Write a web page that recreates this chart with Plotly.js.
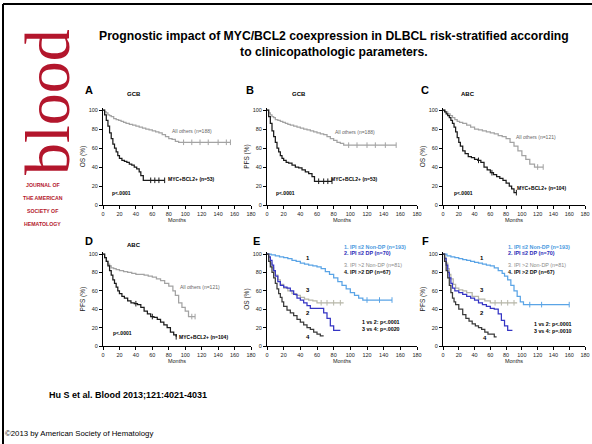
<!DOCTYPE html>
<html><head><meta charset="utf-8">
<script src="https://cdn.plot.ly/plotly-3.0.1.min.js"></script>
<style>html,body{margin:0;padding:0;background:#fff}#chart{width:592px;height:444px}</style>
</head><body><div id="chart"></div>
<script>
// ---------- DATA ----------
const xTicks = [0,20,40,60,80,100,120,140,160,180];
const yTicks = [0,20,40,60,80,100];
// Panel A (GCB, OS)
const aOthT = [0,2,4,6,8,10,13,16,19,22,25,28,32,36,40,44,48,52,56,60,64,68,72,76,80,84,88,92,155];
const aOthS = [100,98,97,95,94,93,91,90,89,88,87,86,85,84,83,82,81,80,79,78,77,76,74,72,70,69,67,66,66];
const aOthC = [98,108,118,128,140,150,155];
const aMycT = [0,2,4,6,8,10,12,14,16,18,20,23,26,29,32,35,38,41,44,46,49,75];
const aMycS = [100,95,89,83,76,70,64,60,56,52,49,47,46,45,43,42,40,38,35,31,26,26];
const aMycC = [58,63,68,75];
// Panel B (GCB, PFS)
const bOthT = [0,2,4,6,8,10,13,16,19,22,25,28,32,36,40,44,48,52,56,60,64,68,72,76,80,84,88,92,155];
const bOthS = [100,97,95,93,92,90,89,88,87,86,85,84,83,82,81,80,79,78,77,76,75,74,72,70,68,66,65,63,63];
const bOthC = [98,108,120,130,142,155];
const bMycT = [0,2,4,6,8,10,12,14,16,18,20,23,26,30,34,38,42,46,50,54,57,78];
const bMycS = [100,93,86,78,72,66,60,56,52,49,47,45,44,42,40,39,37,35,33,30,25,25];
const bMycC = [62,68,73,78];
// Panel C (ABC, OS)
const cOthT = [0,3,6,9,12,15,18,21,25,30,35,40,45,50,55,60,65,70,75,80,85,90,95,100,105,110,116,127];
const cOthS = [100,98,96,94,92,90,88,87,86,84,82,80,79,78,77,76,75,73,72,70,66,62,57,52,48,43,40,40];
const cOthC = [120,127];
const cMycT = [0,2,4,6,8,10,12,14,16,18,20,22,25,28,32,36,40,44,48,52,56,60,64,68,72,76,80,84,87,90,93];
const cMycS = [100,98,96,94,92,89,86,82,77,71,66,62,57,54,51,50,48,47,45,40,37,34,32,30,28,26,23,20,17,13,13];
const cMycC = [45,62,93];
// Panel D (ABC, PFS)
const dOthT = [0,2,4,6,8,10,13,16,20,25,30,35,40,45,50,55,60,65,70,75,80,85,88,92,96,100,104,112];
const dOthS = [100,96,92,89,87,85,84,83,82,81,80,79,78,78,77,76,75,73,71,68,65,60,55,47,42,38,32,32];
const dOthC = [108,112];
const dMycT = [0,2,4,6,8,10,12,14,16,18,20,23,26,30,34,38,42,46,50,54,58,62,66,70,74,78,82,86,89];
const dMycS = [100,96,92,87,82,77,72,68,64,60,57,54,52,49,47,46,45,42,38,35,32,31,29,26,23,20,15,12,10];
const dMycC = [40,60,89];
// Panel E (OS by IPI / DP)
const e1T = [0,5,10,15,20,25,30,35,40,45,50,55,60,65,70,75,80,85,90,95,100,105,110,115,150];
const e1S = [100,99,98,97,96,95,93,92,90,89,88,87,86,84,81,78,74,70,66,62,58,55,52,50,50];
const e1C = [120,135,150];
const e2T = [0,2,4,6,8,10,13,16,20,24,28,32,36,40,44,48,52,58,64,68,72,76,80,88];
const e2S = [100,97,93,88,82,76,70,66,64,63,60,56,52,50,47,44,41,41,41,36,30,22,17,17];
const e3T = [0,2,4,6,8,10,13,16,20,25,30,35,40,45,50,55,60,92];
const e3S = [100,96,90,85,81,77,72,67,63,60,57,55,53,51,50,49,47,47];
const e3C = [65,72,80,88];
const e4T = [0,2,4,6,8,10,12,14,16,18,20,24,28,32,36,40,44,48,52,56,60,64,68];
const e4S = [100,92,86,80,74,68,62,57,53,48,43,39,36,33,29,26,23,20,18,15,13,11,11];
// Panel F (PFS by IPI / DP)
const f1T = [0,5,10,15,20,25,30,35,40,45,50,55,60,65,70,75,78,82,86,90,94,98,102,160];
const f1S = [100,98,97,96,95,94,93,92,91,90,89,88,87,85,82,79,76,72,66,60,54,48,45,45];
const f1C = [110,125,160];
const f2T = [0,2,4,6,8,10,12,15,20,25,30,35,40,45,50,55,60,65,70,74,78,82,88];
const f2S = [100,95,88,80,74,68,63,60,58,56,54,52,50,47,45,43,41,40,35,28,22,17,17];
const f3T = [0,2,4,6,8,10,13,16,20,25,30,37,45,53,60,94];
const f3S = [100,96,90,84,78,73,67,63,61,60,58,54,51,49,47,47];
const f3C = [66,74,82,90];
const f4T = [0,2,4,6,8,10,12,14,16,20,25,29,33,37,41,45,49,53,57,62,65,68];
const f4S = [100,92,82,74,66,58,52,48,45,40,34,30,27,24,22,20,18,15,13,13,10,10];
// Labels
const groupLabels = ['1. IPI \u22642 Non-DP (n=193)','2. IPI \u22642 DP (n=70)','3. IPI >2 Non-DP (n=81)','4. IPI >2 DP (n=67)'];
const curveNums = ['1','2','3','4'];

// ---------- STYLE ----------
const W=592,H=444;
const F='Arial, "Liberation Sans", sans-serif';
const GRAY='#a3a3a3', BLACK='#1a1a1a';
const C1='#5aa4e6', C2='#3535c4', C3='#b6b6a8', C4='#3a3a3a';
const LC1='#4a9ae0', LC2='#2a2ab8', LC3='#8a8a8a', LC4='#111';
const px=x=>x/W, py=y=>1-y/H;

function stepAt(T,S,t){let v=S[0];for(let i=0;i<T.length;i++){if(T[i]<=t)v=S[i];}return v;}
const traces=[];
function curve(T,S,C,color,n){
  traces.push({x:T,y:S,type:'scatter',mode:'lines',line:{shape:'hv',color:color,width:1.25},xaxis:'x'+n,yaxis:'y'+n,hoverinfo:'skip'});
  if(C&&C.length) traces.push({x:C,y:C.map(t=>stepAt(T,S,t)),type:'scatter',mode:'markers',
    marker:{symbol:'line-ns',size:4,line:{width:1,color:color}},xaxis:'x'+n,yaxis:'y'+n,hoverinfo:'skip'});
}
curve(aOthT,aOthS,aOthC,GRAY,''); curve(aMycT,aMycS,aMycC,BLACK,'');
curve(bOthT,bOthS,bOthC,GRAY,2); curve(bMycT,bMycS,bMycC,BLACK,2);
curve(cOthT,cOthS,cOthC,GRAY,3); curve(cMycT,cMycS,cMycC,BLACK,3);
curve(dOthT,dOthS,dOthC,GRAY,4); curve(dMycT,dMycS,dMycC,BLACK,4);
curve(e1T,e1S,e1C,C1,5); curve(e3T,e3S,e3C,C3,5); curve(e2T,e2S,null,C2,5); curve(e4T,e4S,null,C4,5);
curve(f1T,f1S,f1C,C1,6); curve(f3T,f3S,f3C,C3,6); curve(f2T,f2S,null,C2,6); curve(f4T,f4S,null,C4,6);

const tf={family:F,size:5.5,color:'#222'};
function xa(dom,anchor){return {domain:dom,anchor:anchor,range:[0,180],tickvals:xTicks,showline:true,linecolor:'#000',linewidth:1,
  ticks:'outside',ticklen:3,tickwidth:1,tickcolor:'#000',showgrid:false,zeroline:false,tickfont:tf,
  title:{text:'Months',font:{family:F,size:5.5,color:'#222'},standoff:1},fixedrange:true};}
function ya(dom,anchor,t){return {domain:dom,anchor:anchor,range:[0,102],tickvals:yTicks,showline:true,linecolor:'#000',linewidth:1,
  ticks:'outside',ticklen:3,tickwidth:1,tickcolor:'#000',showgrid:false,zeroline:false,tickfont:tf,
  title:{text:t,font:{family:F,size:6.5,color:'#222'},standoff:2},fixedrange:true};}

const colX=[[px(103),px(251)],[px(267),px(417)],[px(443),px(585)]];
const rowTop=[py(205),py(108.1)], rowBot=[py(346),py(252.2)];

const ann=[];
function pa(text,x,y,size,opt){ann.push(Object.assign({text:text,x:px(x),y:py(y),xref:'paper',yref:'paper',showarrow:false,
  xanchor:'center',yanchor:'middle',font:{family:F,size:size,color:'#000'}},opt||{}));}
function da(n,text,x,y,size,color,opt){ann.push(Object.assign({text:text,x:x,y:y,xref:'x'+n,yref:'y'+n,showarrow:false,
  xanchor:'center',yanchor:'middle',font:{family:F,size:size,color:color}},opt||{}));}

// Slide texts
pa('<b>Prognostic impact of MYC/BCL2 coexpression in DLBCL risk-stratified according<br>to clinicopathologic parameters.</b>',334,44,12.2);
pa('<b>Hu S et al. Blood 2013;121:4021-4031</b>',128,395,9);
pa('©2013 by American Society of Hematology',79,433,7.8);
// Logo
pa('blood',47,102,64,{font:{family:'"Liberation Serif", "DejaVu Serif", serif',size:64,color:'#b3162c'},textangle:-90});
['JOURNAL OF','THE AMERICAN','SOCIETY OF','HEMATOLOGY'].forEach((s,i)=>pa('<b>'+s+'</b>',43,184.5+i*13.3,5.2,{font:{family:F,size:5.2,color:'#b3162c'}}));
// Panel letters & titles
[['A',89,90],['B',250,90],['C',425,90],['D',89,241],['E',256,241],['F',425,241]].forEach(a=>pa('<b>'+a[0]+'</b>',a[1],a[2],11));
[['GCB',134,94],['GCB',299,94],['ABC',468,94],['ABC',134,245]].forEach(a=>pa('<b>'+a[0]+'</b>',a[1],a[2],6));

// Panel A-D labels
da('','All others (n=188)',108,78,5,'#666'); da('','<b>MYC+BCL2+ (n=53)</b>',108,27,5,'#000'); da('','<b>p<.0001</b>',23,13,5,'#000');
da(2,'All others (n=188)',106,77,5,'#666'); da(2,'<b>MYC+BCL2+ (n=53)</b>',105,27,5,'#000'); da(2,'<b>p<.0001</b>',22,13,5,'#000');
da(3,'All others (n=121)',118,72,5,'#666'); da(3,'<b>MYC+BCL2+ (n=104)</b>',125,18,5,'#000'); da(3,'<b>p<.0001</b>',26,13,5,'#000');
da(4,'All others (n=121)',118,64,5,'#666'); da(4,'<b>MYC+BCL2+ (n=104)</b>',122,10,5,'#000'); da(4,'<b>p<.0001</b>',24,14,5,'#000');
// Panel E/F legends (paper coords) and labels
const legCols=[LC1,LC2,LC3,LC4];
[342,506].forEach(x0=>{
  const ys=[246.5,253,265,271.5];
  groupLabels.forEach((g,i)=>pa((i===2?g:'<b>'+g+'</b>'),x0,ys[i],5.4,{xanchor:'left',font:{family:F,size:5.4,color:legCols[i]}}));
});
da(5,'<b>1 vs 2: p<.0001</b>',112,26,5.3,'#000',{xanchor:'left'}); da(5,'<b>3 vs 4: p=.0020</b>',112,18.5,5.3,'#000',{xanchor:'left'});
da(6,'<b>1 vs 2: p<.0001</b>',113,24,5.3,'#000',{xanchor:'left'}); da(6,'<b>3 vs 4: p=.0010</b>',113,16,5.3,'#000',{xanchor:'left'});
const eNum=[[49,96],[49,36],[49,61],[49,10]], fNum=[[50,96],[50,36],[50,61],[53,9]];
curveNums.forEach((c,i)=>{da(5,'<b>'+c+'</b>',eNum[i][0],eNum[i][1],6,'#000'); da(6,'<b>'+c+'</b>',fNum[i][0],fNum[i][1],6,'#000');});

const layout={width:W,height:H,margin:{l:0,r:0,t:0,b:0},paper_bgcolor:'#fff',plot_bgcolor:'rgba(0,0,0,0)',showlegend:false,
  font:{family:F},
  xaxis:xa(colX[0],'y'), yaxis:ya(rowTop,'x','OS (%)'),
  xaxis2:xa(colX[1],'y2'), yaxis2:ya(rowTop,'x2','PFS (%)'),
  xaxis3:xa(colX[2],'y3'), yaxis3:ya(rowTop,'x3','OS (%)'),
  xaxis4:xa(colX[0],'y4'), yaxis4:ya(rowBot,'x4','PFS (%)'),
  xaxis5:xa(colX[1],'y5'), yaxis5:ya(rowBot,'x5','OS (%)'),
  xaxis6:xa(colX[2],'y6'), yaxis6:ya(rowBot,'x6','PFS (%)'),
  annotations:ann,
  shapes:[
    {type:'line',xref:'paper',yref:'paper',x0:px(3),x1:1,y0:py(4),y1:py(4),line:{color:'#000',width:2}},
    {type:'line',xref:'paper',yref:'paper',x0:px(3),x1:px(3),y0:py(4),y1:0,line:{color:'#000',width:2}}
  ]};
Plotly.newPlot('chart',traces,layout,{displayModeBar:false,staticPlot:true});
</script></body></html>
